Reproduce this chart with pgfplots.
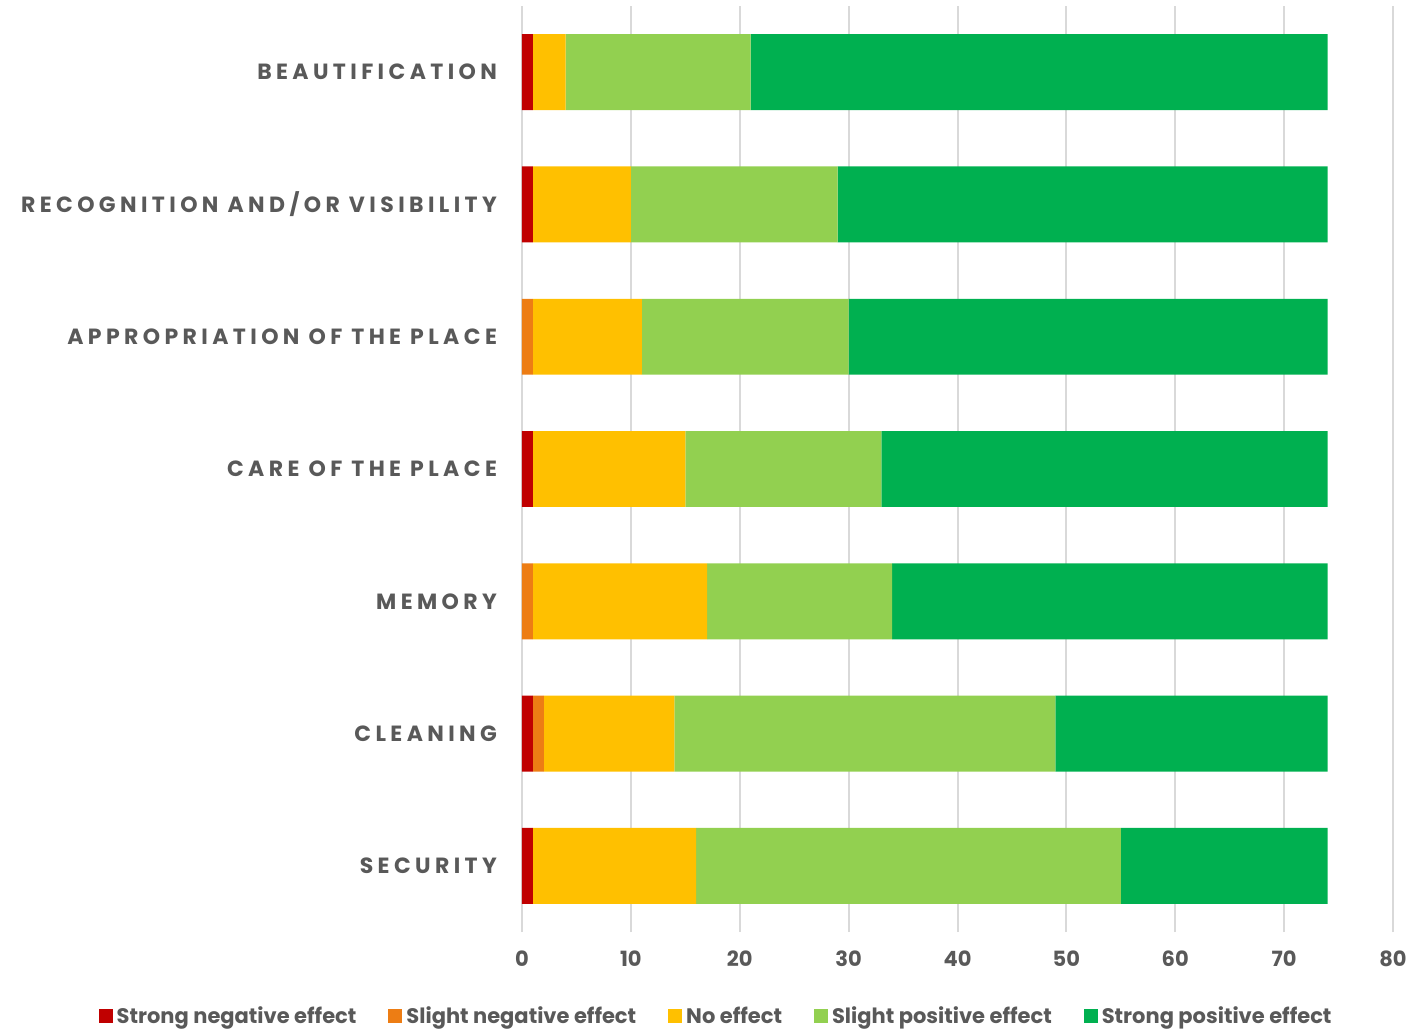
\documentclass[border=0pt]{standalone}
\usepackage{fontspec}
\setmainfont{Poppins}
\newfontfamily\catfont[LetterSpace=20]{Poppins}
\usepackage{pgfplots}
\usepackage{pgfplotstable}
\pgfplotsset{compat=1.18}

\definecolor{sneg}{HTML}{C00000}
\definecolor{lneg}{HTML}{ED7D14}
\definecolor{noef}{HTML}{FFC000}
\definecolor{lpos}{HTML}{92D050}
\definecolor{spos}{HTML}{00B050}
\definecolor{txt}{HTML}{595959}
\definecolor{grd}{HTML}{D9D9D9}

% y: 0 = Security (bottom) ... 6 = Beautification (top)
\pgfplotstableread{
y sneg lneg noef lpos spos
0 1 0 15 39 19
1 1 1 12 35 25
2 0 1 16 17 40
3 1 0 14 18 41
4 0 1 10 19 44
5 1 0 9 19 45
6 1 0 3 17 53
}\effects

\begin{document}
\begin{tikzpicture}
\begin{axis}[
    width=435.5pt, height=463pt,
    scale only axis,
    xbar stacked,
    bar width=0.574,
    xmin=0, xmax=80,
    ymin=-0.5, ymax=6.5,
    xtick={0,10,...,80},
    ytick={0,...,6},
    yticklabels={SECURITY,CLEANING,MEMORY,CARE OF THE PLACE,APPROPRIATION OF THE PLACE,RECOGNITION AND/OR VISIBILITY,BEAUTIFICATION},
    yticklabel style={font=\catfont\bfseries\fontsize{11}{13}\selectfont, text=txt, xshift=-9pt},
    xticklabel style={font=\bfseries\fontsize{10.5}{12}\selectfont, text=txt, yshift=-6pt},
    /pgf/number format/assume math mode=true,
    axis line style={draw=none},
    major tick length=0pt,
    xmajorgrids,
    grid style={grd, line width=1pt},
    legend columns=5,
    legend style={draw=none, font=\bfseries\fontsize{10.5}{12}\selectfont, text=txt,
        at={(0.224,-0.091)}, anchor=center,
        /tikz/every even column/.append style={column sep=14pt}},
    legend cell align=left,
    legend image code/.code={\fill[#1] (0pt,-3.5pt) rectangle (7pt,3.5pt);},
]
\addplot[fill=sneg, draw=none] table[x=sneg, y=y] {\effects};
\addplot[fill=lneg, draw=none] table[x=lneg, y=y] {\effects};
\addplot[fill=noef, draw=none] table[x=noef, y=y] {\effects};
\addplot[fill=lpos, draw=none] table[x=lpos, y=y] {\effects};
\addplot[fill=spos, draw=none] table[x=spos, y=y] {\effects};
\legend{Strong negative effect, Slight negative effect, No effect, Slight positive effect, Strong positive effect}
\end{axis}
\pgfresetboundingbox
\path (current axis.south west) ++(-261pt,-48.5pt) rectangle ++(711pt,514.5pt);
\end{tikzpicture}
\end{document}
